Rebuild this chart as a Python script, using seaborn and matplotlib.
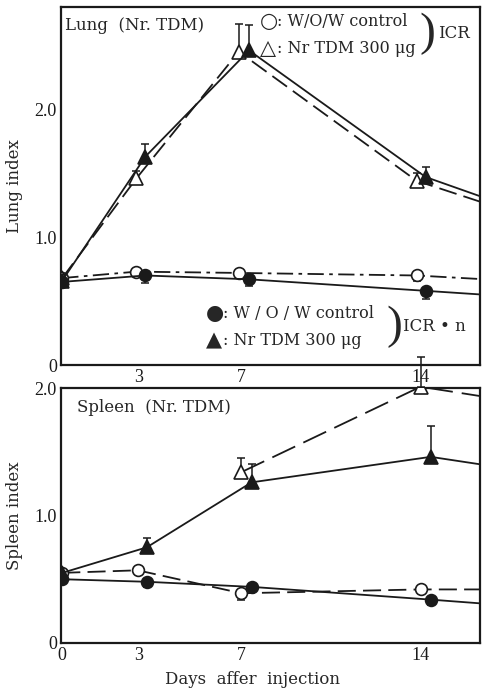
import numpy as np
import pandas as pd
import matplotlib
matplotlib.use("Agg")
import matplotlib.pyplot as plt
import seaborn as sns

# ---------------- data ----------------
days = [0, 3, 7, 14, 21]
x_ticks_top = [3, 7, 14]
x_ticks_bottom = [0, 3, 7, 14]

# Lung index
lung_icr_ctrl = [0.68, 0.73, 0.72, 0.70, 0.62]      # open circle
lung_icr_tdm = [0.68, 1.46, 2.45, 1.44, 0.97]       # open triangle
lung_icrn_ctrl = [0.65, 0.70, 0.67, 0.58, 0.49]     # filled circle
lung_icrn_tdm = [0.66, 1.63, 2.46, 1.47, 0.99]      # filled triangle
lung_icr_ctrl_err_lo = [0.0, 0.03, 0.03, 0.04, 0.0]
lung_icr_tdm_err_hi = [0.0, 0.06, 0.22, 0.06, 0.0]
lung_icrn_ctrl_err_lo = [0.0, 0.06, 0.05, 0.06, 0.0]
lung_icrn_tdm_err_hi = [0.03, 0.10, 0.20, 0.08, 0.0]

# Spleen index
spleen_icr_ctrl = [0.55, 0.57, 0.39, 0.42, 0.42]
spleen_icr_tdm = [None, None, 1.34, 2.01, 1.79]
spleen_icrn_ctrl = [0.50, 0.48, 0.44, 0.34, 0.24]
spleen_icrn_tdm = [0.55, 0.75, 1.26, 1.46, 1.26]
spleen_icr_ctrl_err_lo = [0.0, 0.0, 0.05, 0.0, 0.0]
spleen_icr_tdm_err_hi = [0.0, 0.0, 0.11, 0.23, 0.0]
spleen_icrn_ctrl_err_lo = [0.03, 0.04, 0.0, 0.04, 0.0]
spleen_icrn_tdm_err_hi = [0.03, 0.07, 0.14, 0.24, 0.0]

# ---------------- style ----------------
sns.set_theme(style="white")
plt.rcParams['font.family'] = ['DejaVu Serif', 'DejaVu Sans']
TICKF = ['Liberation Serif', 'DejaVu Serif']
SYMF = ['DejaVu Sans']
FS = 12
LFS = 11.5

fig = plt.figure(figsize=(4.84, 6.93), dpi=100)
ax1 = fig.add_axes([0.126, 0.4733, 0.866, 0.5167])
ax2 = fig.add_axes([0.126, 0.0722, 0.866, 0.3679])

# small horizontal jitter so that overlapping groups stay visible
JIT_OPEN_TOP = [0, -0.1, -0.1, -0.15, 0]
JIT_FILL_TOP = [0, 0.25, 0.3, 0.2, 0]
JIT_OPEN_BOT = [0, -0.05, 0.0, 0.0, 0]
JIT_FILL_BOT = [0, 0.3, 0.4, 0.4, 0]


def series(ax, ys, err_lo, err_hi, marker, filled, ls, jit, clip_err=True):
    x = np.array(days, dtype=float) + np.array(jit, dtype=float)
    y = np.array([np.nan if v is None else v for v in ys], dtype=float)
    df = pd.DataFrame({"day": x, "val": y}).dropna()
    sns.lineplot(data=df, x="day", y="val", ax=ax, color="k", linewidth=1.3,
                 linestyle=ls, marker=marker,
                 markersize=8.5 if marker == 'o' else 9.5,
                 markerfacecolor="k" if filled else "white",
                 markeredgecolor="k", markeredgewidth=1.2, zorder=3,
                 estimator=None, sort=False)
    lo = np.array(err_lo, dtype=float)
    hi = np.array(err_hi, dtype=float)
    m = ((lo > 0) | (hi > 0)) & ~np.isnan(y)
    if m.any():
        eb = ax.errorbar(x[m], y[m], yerr=[lo[m], hi[m]], fmt='none', ecolor='k',
                         elinewidth=1.1, capsize=3, capthick=1.1, zorder=2)
        if not clip_err:
            for art in list(eb.lines[1]) + list(eb.lines[2]):
                art.set_clip_on(False)


DASHDOT = (0, (9, 3, 2, 3))
DASH = (0, (10, 4))
LONGDASH = (0, (14, 5))

series(ax1, lung_icr_ctrl, lung_icr_ctrl_err_lo, [0] * 5, 'o', False, DASHDOT, JIT_OPEN_TOP)
series(ax1, lung_icr_tdm, [0] * 5, lung_icr_tdm_err_hi, '^', False, DASH, JIT_OPEN_TOP)
series(ax1, lung_icrn_ctrl, lung_icrn_ctrl_err_lo, [0] * 5, 'o', True, '-', JIT_FILL_TOP)
series(ax1, lung_icrn_tdm, [0] * 5, lung_icrn_tdm_err_hi, '^', True, '-', JIT_FILL_TOP)

series(ax2, spleen_icr_ctrl, spleen_icr_ctrl_err_lo, [0] * 5, 'o', False, DASH, JIT_OPEN_BOT)
series(ax2, spleen_icr_tdm, [0] * 5, spleen_icr_tdm_err_hi, '^', False, LONGDASH,
       JIT_OPEN_BOT, clip_err=False)
series(ax2, spleen_icrn_ctrl, spleen_icrn_ctrl_err_lo, [0] * 5, 'o', True, '-', JIT_FILL_BOT)
series(ax2, spleen_icrn_tdm, [0] * 5, spleen_icrn_tdm_err_hi, '^', True, '-', JIT_FILL_BOT)

for ax in (ax1, ax2):
    ax.set_xlim(-0.05, 16.33)
    for s in ax.spines.values():
        s.set_visible(True)
        s.set_color('k')
        s.set_linewidth(1.6)
    ax.tick_params(direction='in', length=5, width=1.1, colors='k', pad=3)
    ax.set_xlabel("")
    ax.set_ylabel("")

ax1.set_ylim(0, 2.80)
ax1.set_yticks([0, 1.0, 2.0])
ax1.set_yticklabels(["0", "1.0", "2.0"])
ax1.set_xticks(x_ticks_top)
ax1.set_xticklabels([str(v) for v in x_ticks_top])

ax2.set_ylim(0, 2.0)
ax2.set_yticks([0, 1.0, 2.0])
ax2.set_yticklabels(["0", "1.0", "2.0"])
ax2.set_xticks(x_ticks_bottom)
ax2.set_xticklabels([str(v) for v in x_ticks_bottom])

for ax in (ax1, ax2):
    for lab in ax.get_xticklabels() + ax.get_yticklabels():
        lab.set_family(TICKF)
        lab.set_fontsize(13)

ax1.set_ylabel("Lung index", fontsize=FS, labelpad=8)
ax2.set_ylabel("Spleen index", fontsize=FS, labelpad=8)
ax2.set_xlabel("Days  affer  injection", fontsize=FS, labelpad=5)
ax2.xaxis.label.set_x(0.456)

# panel titles
ax1.text(0.01, 0.947, "Lung  (Nr. TDM)", transform=ax1.transAxes,
         fontsize=FS, va='center', ha='left')
ax2.text(0.038, 0.925, "Spleen  (Nr. TDM)", transform=ax2.transAxes,
         fontsize=FS, va='center', ha='left')

# legend-like annotations, top (ICR)
ax1.text(0.474, 0.960, "○", transform=ax1.transAxes, fontsize=15,
         va='center', ha='left', family=SYMF)
ax1.text(0.516, 0.960, ": W/O/W control", transform=ax1.transAxes,
         fontsize=LFS, va='center', ha='left')
ax1.text(0.474, 0.885, "△", transform=ax1.transAxes, fontsize=15,
         va='center', ha='left', family=SYMF)
ax1.text(0.516, 0.885, ": Nr TDM 300 μg", transform=ax1.transAxes,
         fontsize=LFS, va='center', ha='left')
ax1.text(0.855, 0.924, ")", transform=ax1.transAxes, fontsize=34,
         va='center', ha='left', family=['Liberation Serif'])
ax1.text(0.900, 0.926, "ICR", transform=ax1.transAxes, fontsize=FS,
         va='center', ha='left')

# legend-like annotations, bottom (ICR·n)
ax1.text(0.345, 0.145, "●", transform=ax1.transAxes, fontsize=15,
         va='center', ha='left', family=SYMF)
ax1.text(0.387, 0.145, ": W / O / W control", transform=ax1.transAxes,
         fontsize=LFS, va='center', ha='left')
ax1.text(0.345, 0.068, "▲", transform=ax1.transAxes, fontsize=15,
         va='center', ha='left', family=SYMF)
ax1.text(0.387, 0.068, ": Nr TDM 300 μg", transform=ax1.transAxes,
         fontsize=LFS, va='center', ha='left')
ax1.text(0.776, 0.106, ")", transform=ax1.transAxes, fontsize=34,
         va='center', ha='left', family=['Liberation Serif'])
ax1.text(0.815, 0.108, "ICR • n", transform=ax1.transAxes, fontsize=FS,
         va='center', ha='left')

fig.savefig("out.png", dpi=100, facecolor='white')
